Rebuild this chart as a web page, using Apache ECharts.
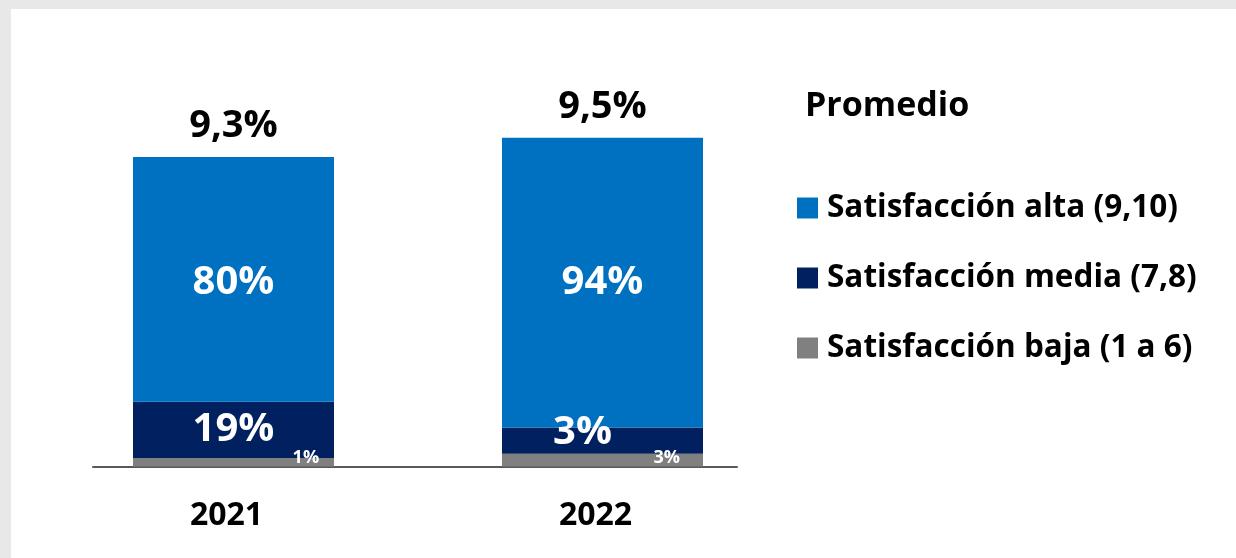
<!DOCTYPE html>
<html>
<head>
<meta charset="utf-8">
<script src="https://cdn.jsdelivr.net/npm/echarts@6/dist/echarts.min.js"></script>
<style>
  html, body { margin: 0; padding: 0; background: #e8e8e8; }
  #panel { position: absolute; left: 11px; top: 9px; right: 0; bottom: 0; background: #ffffff; }
  #chart { position: absolute; left: 0; top: 0; width: 1236px; height: 558px; }
</style>
</head>
<body>
<div id="panel"></div>
<div id="chart"></div>
<script>
// ---- data ----
const years = ['2021', '2022'];
const seriesNames = ['Satisfacción alta (9,10)', 'Satisfacción media (7,8)', 'Satisfacción baja (1 a 6)'];
// bar segment heights (chart units)
const alta = [74.2, 87.8];
const media = [17.0, 7.9];
const baja = [2.6, 3.9];
// printed labels
const altaLabels = ['80%', '94%'];
const mediaLabels = ['19%', '3%'];
const bajaLabels = ['1%', '3%'];
const promedioLabels = ['9,3%', '9,5%'];
const promedioTitle = 'Promedio';

const colors = { alta: '#0070C0', media: '#002060', baja: '#808080' };
const FONT = '"Open Sans"';

const chart = echarts.init(document.getElementById('chart'), null, { renderer: 'canvas' });

const bigLabel = (arr) => ({
  show: true,
  position: 'inside',
  color: '#ffffff',
  fontFamily: FONT,
  fontWeight: 'bold',
  fontSize: 40,
  formatter: (p) => arr[p.dataIndex]
});

const mediaData = media.map((v, i) => i === 1
  ? { value: v, label: { offset: [-20, -8] } }
  : { value: v });

const bajaData = baja.map((v, i) => i === 0
  ? { value: v, label: { position: ['86%', '0%'] } }
  : { value: v, label: { position: ['82%', '30%'] } });

const altaData = alta.map((v, i) => i === 0
  ? { value: v, label: { offset: [0, 3] } }
  : { value: v });

const option = {
  animation: false,
  backgroundColor: 'transparent',
  title: {
    text: promedioTitle,
    left: 805,
    top: 89,
    padding: 0,
    textStyle: { fontFamily: FONT, fontWeight: 'bold', fontSize: 34, color: '#000', lineHeight: 34 }
  },
  legend: {
    data: seriesNames,
    orient: 'vertical',
    left: 797,
    top: 192,
    padding: 0,
    itemWidth: 21,
    itemHeight: 21,
    itemGap: 38,
    icon: 'rect',
    textStyle: { fontFamily: FONT, fontWeight: 'bold', fontSize: 31.5, color: '#000', lineHeight: 30, padding: [0, 0, 0, 4] }
  },
  grid: [
    { left: 49, right: 449, top: 136.5, height: 330 },
    { left: 93, right: 499, top: 136.5, height: 330 }
  ],
  xAxis: [
    {
      type: 'category', data: years, gridIndex: 0,
      axisLine: { show: false }, axisTick: { show: false },
      axisLabel: { fontFamily: FONT, fontWeight: 'bold', fontSize: 32, color: '#000', margin: 33, padding: [0, 14, 0, 0] }
    },
    {
      type: 'category', data: years, gridIndex: 1,
      axisLine: { show: true, lineStyle: { color: '#595959', width: 2 } },
      axisTick: { show: false }, axisLabel: { show: false }
    }
  ],
  yAxis: [
    { type: 'value', min: 0, max: 100, show: false, gridIndex: 0, splitLine: { show: false } },
    { type: 'value', min: 0, max: 100, show: false, gridIndex: 1, splitLine: { show: false } }
  ],
  series: [
    {
      name: seriesNames[2], type: 'bar', stack: 's', barWidth: 201,
      itemStyle: { color: colors.baja },
      data: bajaData,
      label: {
        show: true, color: '#ffffff', fontFamily: FONT, fontWeight: 'bold', fontSize: 18,
        align: 'center', verticalAlign: 'middle',
        formatter: (p) => bajaLabels[p.dataIndex]
      }
    },
    {
      name: seriesNames[1], type: 'bar', stack: 's', barWidth: 201,
      itemStyle: { color: colors.media },
      data: mediaData,
      label: bigLabel(mediaLabels)
    },
    {
      name: seriesNames[0], type: 'bar', stack: 's', barWidth: 201,
      itemStyle: { color: colors.alta },
      data: altaData,
      label: bigLabel(altaLabels)
    },
    {
      name: 'Promedio', type: 'bar', stack: 's', barWidth: 201,
      itemStyle: { color: 'transparent' },
      data: years.map(() => 0),
      label: {
        show: true, position: 'top', distance: 12,
        color: '#000', fontFamily: FONT, fontWeight: 'bold', fontSize: 38,
        formatter: (p) => promedioLabels[p.dataIndex]
      }
    }
  ]
};
chart.setOption(option);
</script>
</body>
</html>
